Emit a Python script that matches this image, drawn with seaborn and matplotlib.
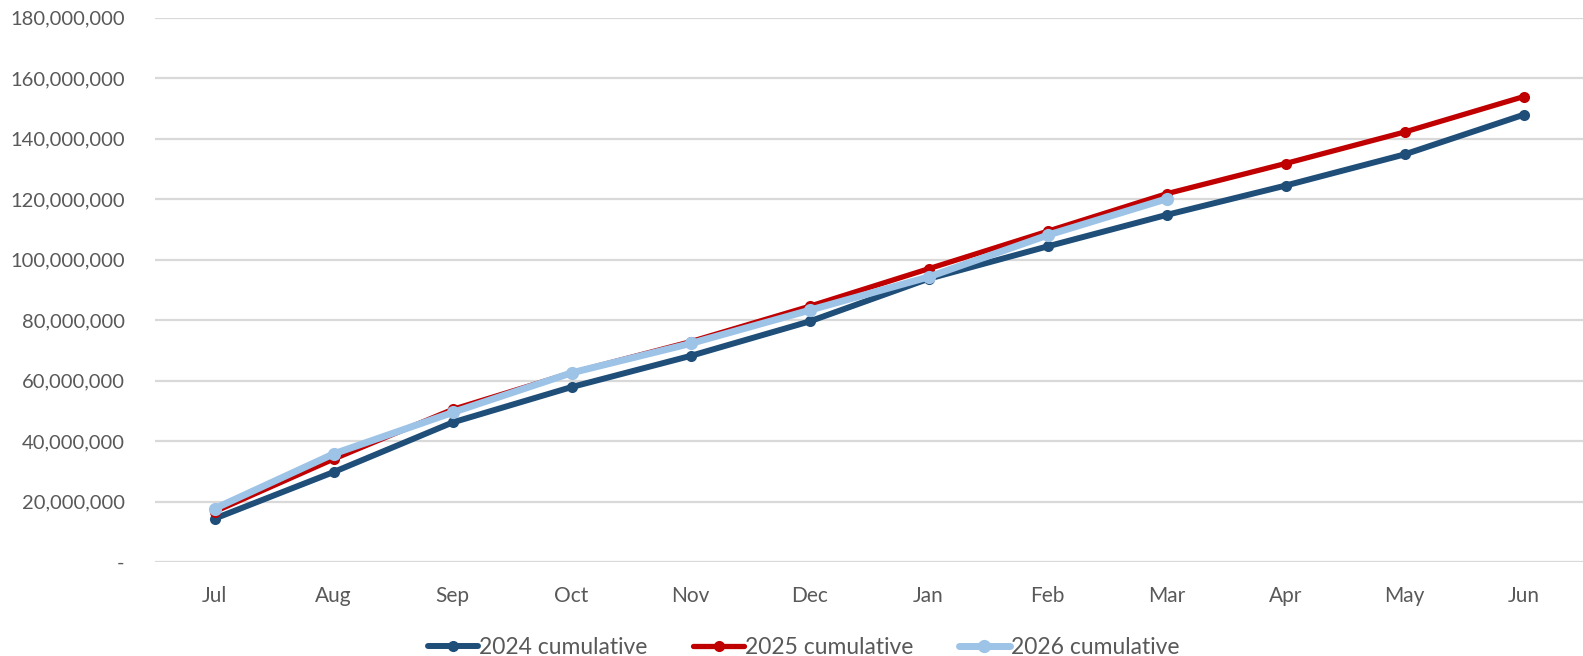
import matplotlib
matplotlib.use("Agg")
import matplotlib.pyplot as plt
import matplotlib.ticker as mticker
import seaborn as sns
import pandas as pd

months = ["Jul", "Aug", "Sep", "Oct", "Nov", "Dec", "Jan", "Feb", "Mar", "Apr", "May", "Jun"]
cum_2024 = [14.4e6, 29.8e6, 46.2e6, 57.9e6, 68.2e6, 79.6e6, 93.7e6, 104.4e6, 114.8e6, 124.5e6, 134.8e6, 147.9e6]
cum_2025 = [16.7e6, 34.1e6, 50.5e6, 62.6e6, 72.9e6, 84.6e6, 97.0e6, 109.4e6, 121.8e6, 131.8e6, 142.2e6, 153.9e6]
cum_2026 = [17.7e6, 35.8e6, 49.5e6, 62.6e6, 72.3e6, 83.3e6, 94.3e6, 108.1e6, 120.1e6]

series_names = ["2024 cumulative", "2025 cumulative", "2026 cumulative"]
series_values = [cum_2024, cum_2025, cum_2026]
series_colors = ["#1f4e79", "#c00000", "#9dc3e6"]
series_widths = [4.3, 3.8, 5.0]
series_marker = [8.0, 8.0, 9.5]

sns.set_theme(style="white")
plt.rcParams["font.family"] = ["Lato", "DejaVu Sans"]

fig = plt.figure(figsize=(15.83, 6.56), dpi=100)
ax = fig.add_axes([0.098, 0.143, 0.902, 0.83])

for name, vals, col, lw, ms in zip(series_names, series_values, series_colors, series_widths, series_marker):
    df = pd.DataFrame({"pos": list(range(len(vals))), "value": vals})
    sns.lineplot(data=df, x="pos", y="value", ax=ax, color=col, linewidth=lw,
                 marker="o", markersize=ms, markeredgewidth=0, label=name, sort=False)

ax.set_xlim(-0.5, len(months) - 0.5)
ax.set_ylim(0, 180e6)
ax.set_xticks(range(len(months)))
ax.set_xticklabels(months)
ax.yaxis.set_major_locator(mticker.MultipleLocator(20e6))
ax.yaxis.set_major_formatter(mticker.FuncFormatter(lambda v, p: "-" if v == 0 else f"{v:,.0f}"))
ax.grid(axis="y", color="#d9d9d9", linewidth=1.6)
ax.set_axisbelow(True)
for s in ax.spines.values():
    s.set_visible(False)
ax.set_xlabel("")
ax.set_ylabel("")
ax.tick_params(axis="both", length=0, labelsize=14.5, colors="#595959")
ax.tick_params(axis="x", labelsize=15, pad=17)
ax.tick_params(axis="y", pad=22)

leg = ax.legend(loc="upper center", bbox_to_anchor=(0.454, -0.1), ncol=3, frameon=False,
                fontsize=16.5, handlelength=2.2, columnspacing=2.0, handletextpad=0.05)
for t in leg.get_texts():
    t.set_color("#595959")

fig.savefig("out.png", dpi=100)
